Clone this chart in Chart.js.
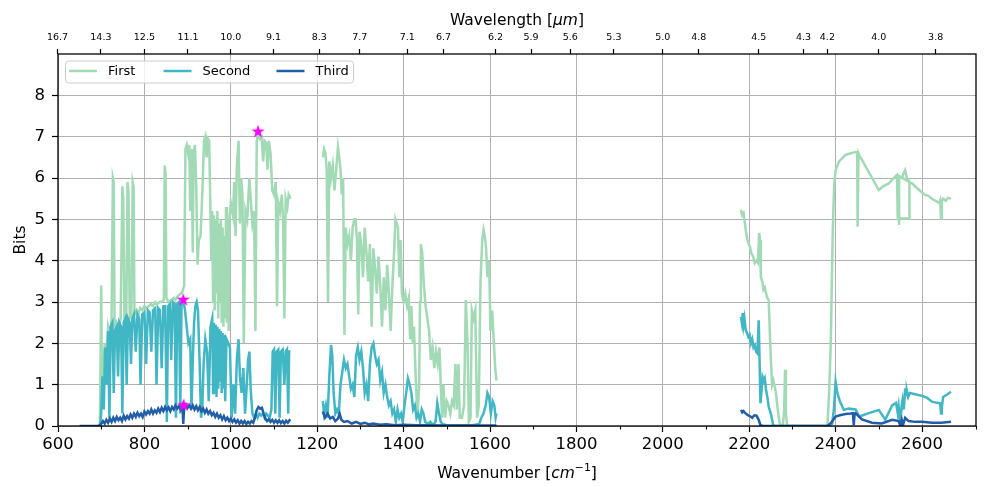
<!DOCTYPE html>
<html>
<head>
<meta charset="utf-8">
<script src="https://cdn.jsdelivr.net/npm/chart.js@4.4.1/dist/chart.umd.min.js"></script>
<style>
html,body{margin:0;padding:0;background:#fff;}
#wrap{width:984px;height:487px;}
</style>
</head>
<body>
<div id="wrap"><canvas id="c" width="984" height="487"></canvas></div>
<script>
// ---------------- data ----------------
const seriesNames = ['First', 'Second', 'Third'];
const seriesColors = ['#a1dab4', '#41b6c4', '#225ea8'];

const firstX = [
690,697,700,702,705,708,712,716,720,724,
727,729,731,735,740,745,749,751,754,758,
761,763,766,770,773,775,777,782,786,790,
795,800,805,810,815,820,825,830,835,840,
845,847,849,851,856,862,868,872,878,884,
888,892,895,898,901,904,906,909,912,914,
917,920,923,926,930,934,938,941,944,947,
950,953,955,957,959,961,963,965,967,969,
971,973,975,977,979,981,983,985,987,989,
991,993,995,997,1000,1005,1008,1011,1014,1018,
1021,1024,1027,1030,1034,1038,1043,1046,1050,1054,
1057,1060,1063,1067,1071,1075,1078,1082,1085,1088,
1092,1096,1100,1104,1107,1110,1114,1118,1121,1124,
1127,1131,1134,1138,
1175,
1213,1216,1219,1222,1225,1228,1232,1236,1240,1244,
1248,1251,1254,1257,1260,1263,1266,1270,1274,1278,
1282,1286,1289,1292,1295,1298,1302,1306,1310,1314,
1318,1322,1326,1330,1334,1338,1342,1346,1350,1354,
1358,1362,1366,1370,1374,1378,1381,1384,1387,1390,
1393,1396,1400,1404,1408,1412,1415,1418,1421,1424,
1428,1432,1436,1438,1440,1443,1447,1451,1455,1459,
1463,1467,1471,1475,1479,1483,1486,1489,1492,1496,
1500,1504,1508,1512,1516,1520,1523,1527,1530,1535,
1540,1544,1548,1551,1555,1558,1562,1566,1570,1574,
1578,1582,1585,1588,1591,1594,1598,1601,1605,1609,
1612,1615,
1900,
2181,2184,2187,2190,2193,2196,2199,2202,2205,2209,
2213,2217,2220,2223,2225,2227,2230,2233,2236,2239,
2242,2245,2247,2249,2251,2253,2256,2259,2262,2266,
2270,2273,2278,2281,2283,2285,2288,2340,
2381,2385,2389,2391,2393,2395,2397,2400,2408,2423,
2435,2446,2450,2451,2453,2455,2500,2510,2523,2530,
2538,2542,2544,2546,2550,2554,2557,2561,2565,2569,
2571,2571,2547,2547,2547,2571,2577,2584,2592,2600,
2607,2615,2623,2627,2635,2640,2642,2644,2646,2649,
2655,2660,2667];
const firstY = [
0,0,3.4,0.5,1.2,2.0,1.5,2.4,2.2,2.6,
6.0,5.9,2.4,2.5,2.3,2.6,5.8,5.5,2.5,2.6,
5.9,5.7,2.6,2.7,5.9,5.8,2.7,2.8,2.7,2.85,
2.8,2.9,2.85,2.9,2.95,2.9,3.0,2.95,3.0,3.0,
3.05,6.3,6.1,3.1,3.0,3.05,3.1,3.05,3.15,3.2,
3.25,3.4,6.7,6.8,6.6,6.8,5.2,6.7,4.2,6.6,
6.8,5.8,3.9,4.5,4.6,5.6,6.9,7.0,6.5,6.95,
6.9,5.1,4.0,5.2,3.0,5.1,2.8,5.0,3.2,5.2,
2.6,4.9,3.0,5.0,2.5,4.8,2.4,4.6,2.6,5.3,
2.5,5.0,2.3,5.0,5.4,5.1,5.9,4.6,6.3,6.9,
4.9,6.0,5.6,2.0,5.2,5.0,6.0,5.5,4.9,5.2,
2.3,6.9,7.05,6.95,7.0,6.4,6.9,6.85,6.2,6.9,
6.6,5.7,5.6,5.9,2.9,5.4,5.2,5.6,5.0,2.6,
5.5,5.3,5.6,5.5,
null,
6.5,6.7,6.6,6.2,3.0,6.4,6.0,6.3,5.7,6.2,
6.75,6.5,6.2,5.6,6.0,2.2,4.8,4.4,4.6,4.0,
4.8,5.0,5.0,4.5,2.7,4.7,4.4,3.6,4.8,4.2,
3.5,4.4,2.4,4.3,3.8,3.2,4.1,3.4,2.4,3.6,
2.8,3.9,3.2,2.3,3.4,4.2,5.0,4.9,4.8,3.6,
4.5,3.2,3.0,3.2,2.9,3.1,2.1,2.9,2.0,2.4,
1.2,0.2,1.0,3.0,4.4,4.2,3.4,2.9,2.6,2.3,
1.6,1.9,1.4,1.8,1.5,1.9,1.0,0.2,1.0,0.2,
0.6,0.5,0.3,0.6,0.5,1.5,0.4,1.5,0.2,0.2,
0.5,3.05,2.0,0.1,0.2,2.8,2.6,2.8,0.2,0.5,
3.5,4.5,4.75,4.6,4.3,3.6,4.0,2.3,2.8,2.0,
1.4,1.1,
null,
5.23,5.1,5.15,4.9,4.67,4.5,4.4,4.33,4.18,4.1,
3.94,4.0,3.95,4.67,4.5,3.6,3.5,3.3,3.35,3.2,
3.1,3.05,2.5,1.9,1.4,1.0,1.1,0.95,0.8,0.4,
0.1,0,0,0.4,1.36,0.3,0,0,
0,0.8,2.08,3.3,4.5,5.3,5.87,6.19,6.4,6.56,
6.6,6.63,6.62,4.82,6.6,6.55,5.71,5.8,5.87,5.95,
6.03,6.07,4.98,6.05,6.02,6.0,6.11,6.19,6.0,5.95,
5.9,5.02,5.02,4.86,6.05,5.9,5.87,5.8,5.72,5.65,
5.59,5.57,5.5,5.47,5.43,5.39,5.45,5.02,5.45,5.5,
5.45,5.52,5.5];

const secondX = [
690,697,700,703,706,709,712,716,719,722,
726,729,732,736,739,742,746,749,752,756,
759,762,766,769,772,776,780,784,788,791,
795,800,804,808,812,816,820,825,828,832,
836,840,844,848,852,855,859,862,866,870,
873,876,880,883,886,890,894,898,902,906,
909,912,915,918,921,924,928,931,934,937,
941,945,949,953,957,959,961,963,965,967,
969,971,973,975,977,979,981,983,985,987,
990,994,998,1002,1006,1010,1014,1018,1021,1025,
1029,1033,1037,1040,1043,1046,1050,1054,1058,1062,
1066,1070,1074,1078,1082,1086,1090,1094,1097,1100,
1103,1106,1110,1113,1116,1120,1124,1127,1130,1133,
1135,1138,
1175,
1213,1216,1220,1224,1228,1232,1235,1238,1242,1246,
1250,1254,1258,1262,1266,1270,1274,1278,1282,1286,
1290,1294,1298,1302,1306,1310,1314,1318,1322,1326,
1330,1334,1338,1342,1346,1350,1354,1358,1362,1366,
1370,1374,1378,1382,1386,1390,1394,1398,1402,1406,
1410,1414,1418,1422,1426,1430,1434,1438,1442,1446,
1450,1456,1462,1468,1474,1478,1482,1486,1490,1500,
1520,1540,1560,1575,1580,1585,1590,1594,1598,1602,
1606,1610,1613,1615,
1900,
2181,2183,2185,2187,2189,2192,2195,2198,2201,2204,
2207,2210,2213,2216,2219,2222,2224,2226,2229,2231,
2234,2236,2239,2242,2245,2250,2253,2256,2300,2340,
2381,2392,2396,2400,2404,2410,2419,2430,2446,2455,
2477,2500,2515,2531,2540,2544,2546,2550,2553,2555,
2558,2561,2563,2565,2568,2572,2584,2600,2612,2623,
2635,2642,2644,2646,2649,2658,2667];
const secondY = [
0,0,0.3,1.2,0.4,1.9,1.0,2.3,0.2,2.4,
2.5,0.8,2.3,2.4,1.2,2.5,2.4,0.3,2.5,2.6,
1.0,2.6,2.5,1.5,2.6,2.7,1.8,2.7,2.6,1.0,
2.7,2.75,1.5,2.8,2.75,1.8,2.8,2.85,1.0,2.85,
2.8,1.4,2.9,2.9,0.1,2.9,2.95,1.6,3.0,2.95,
0.2,2.95,3.0,0.3,3.0,3.05,2.8,2.4,2.0,2.1,
0.4,1.6,2.5,2.9,3.0,2.8,1.5,0.2,0.4,1.5,
2.1,1.8,0.6,2.4,2.6,0.8,2.5,1.0,2.45,0.7,
2.4,0.9,2.35,1.1,2.3,0.8,2.25,0.9,2.2,0.6,
2.1,2.0,1.9,0.2,1.0,0.3,1.6,2.1,1.2,0.8,
1.4,0.3,1.0,1.6,1.8,0.9,0.3,0.2,0.3,0.2,
0.3,0.25,0.3,0.2,0.3,0.25,0.2,0.4,1.8,1.85,
0.3,1.8,1.85,0.2,1.8,1.85,1.0,1.8,1.85,0.3,
1.8,1.8,
null,
0.6,0.3,0.5,0.2,1.2,1.96,1.7,0.8,0.3,0.4,
0.3,1.0,1.3,1.6,1.4,1.5,1.2,0.9,1.0,0.7,
1.7,1.9,1.6,1.8,1.4,0.8,1.0,0.6,1.5,1.9,
2.0,1.7,1.5,1.6,1.1,1.3,0.8,1.0,0.7,0.5,
0.6,0.3,0.4,0.1,0.4,0.2,0.3,0.1,0.5,0.8,
1.15,1.0,0.8,0.4,0.5,0.2,0.3,0.1,0.4,0.3,
0.1,0.05,0.1,0.02,0.1,0.55,0.3,0.1,0.05,0.02,
0.02,0.02,0.02,0.05,0.2,0.3,0.5,0.8,0.7,0.3,
0.6,0.5,0.2,0.3,
null,
2.64,2.5,2.73,2.45,2.6,2.32,2.25,2.15,2.2,2.0,
2.1,1.9,1.95,1.8,1.76,2.56,1.6,0.55,0.9,1.19,
1.1,1.15,0.87,0.7,0.47,0.3,0.15,0,0,0,
0,0.05,0.4,1.07,0.8,0.6,0.39,0.42,0.4,0.23,
0.31,0.39,0.15,0.5,0.56,0.3,0.47,0.06,0.5,0.63,
0.4,0.91,0.75,0.85,0.7,0.8,0.77,0.73,0.68,0.59,
0.56,0.55,0.3,0.47,0.7,0.76,0.83];

const thirdX = [
650,695,700,704,708,712,716,720,724,728,
732,736,740,744,748,752,756,760,764,768,
772,776,780,784,788,792,796,800,804,808,
812,816,820,824,828,832,836,840,844,848,
852,856,860,864,868,872,876,880,884,888,
890,892,896,900,904,908,912,916,920,924,
928,932,936,940,944,948,952,956,960,964,
968,972,976,980,984,988,992,996,1000,1004,
1008,1012,1016,1020,1024,1028,1032,1036,1040,1044,
1048,1052,1056,1060,1064,1068,1072,1076,1080,1084,
1088,1092,1096,1100,1104,1108,1112,1116,1120,1124,
1128,1132,1136,1138,
1175,
1213,1218,1224,1230,1236,1242,1248,1252,1256,1262,
1270,1280,1290,1300,1310,1320,1330,1345,1360,1380,
1400,1430,1460,1500,1550,1615,
1900,
2181,2184,2187,2191,2195,2199,2203,2207,2212,2217,
2222,2226,2232,2300,2340,
2381,2390,2395,2400,2410,2423,2435,2440,2442,2444,
2446,2461,2484,2507,2531,2546,2550,2553,2556,2561,
2569,2584,2600,2623,2645,2667];
const thirdY = [
0,0,0.05,0.12,0.06,0.15,0.08,0.18,0.1,0.2,
0.12,0.22,0.14,0.2,0.12,0.25,0.16,0.24,0.18,0.28,
0.2,0.3,0.22,0.32,0.24,0.3,0.22,0.35,0.28,0.36,
0.3,0.4,0.3,0.38,0.32,0.42,0.34,0.44,0.36,0.46,
0.38,0.45,0.36,0.46,0.4,0.5,0.42,0.48,0.4,0.5,
0.05,0.45,0.52,0.44,0.5,0.42,0.5,0.4,0.48,0.38,
0.46,0.36,0.42,0.32,0.4,0.3,0.36,0.26,0.32,0.22,
0.3,0.2,0.26,0.16,0.24,0.14,0.2,0.12,0.18,0.1,
0.16,0.08,0.14,0.06,0.12,0.06,0.12,0.05,0.1,0.06,
0.12,0.08,0.2,0.38,0.46,0.42,0.44,0.3,0.18,0.12,
0.16,0.1,0.15,0.08,0.14,0.08,0.14,0.07,0.12,0.06,
0.13,0.08,0.14,0.12,
null,
0.35,0.2,0.3,0.18,0.22,0.12,0.18,0.3,0.15,0.1,
0.12,0.06,0.1,0.05,0.08,0.04,0.06,0.03,0.04,0.02,
0.03,0.02,0.02,0.01,0.01,0.01,
null,
0.39,0.33,0.36,0.31,0.28,0.25,0.23,0.2,0.26,0.25,
0.15,0.02,0,0,0,
0,0.08,0.16,0.23,0.26,0.29,0.3,0.31,0.02,0.3,
0.31,0.16,0.08,0.06,0.15,0.12,0.0,0.15,0.02,0.2,
0.12,0.1,0.1,0.08,0.08,0.1];

// highlighted maxima (magenta stars)
const starX = [1063, 890, 891];
const starY = [7.12, 3.05, 0.5];

// top axis tick labels: wavelength in micrometres
const wavelengthTicks = [16.7,14.3,12.5,11.1,10.0,9.1,8.3,7.7,7.1,6.7,6.2,5.9,5.6,5.3,5.0,4.8,4.5,4.3,4.2,4.0,3.8];

// ---------------- helpers ----------------
const FONT = "'DejaVu Sans', 'Liberation Sans', sans-serif";
function pts(xs, ys) { return xs.map((x, i) => ({x: x, y: ys[i]})); }

function makeStar(r, color) {
  const s = Math.ceil(2 * r + 2);
  const c = document.createElement('canvas');
  c.width = s; c.height = s;
  const g = c.getContext('2d');
  g.fillStyle = color;
  g.beginPath();
  for (let i = 0; i < 10; i++) {
    const a = -Math.PI / 2 + i * Math.PI / 5;
    const rr = (i % 2 === 0) ? r : r * 0.381966;
    const px = s / 2 + rr * Math.cos(a), py = s / 2 + rr * Math.sin(a);
    if (i === 0) g.moveTo(px, py); else g.lineTo(px, py);
  }
  g.closePath();
  g.fill();
  return c;
}

function drawParts(ctx, parts, cx, baseY, size) {
  let total = 0;
  const m = parts.map(p => {
    const fs = p.sup ? size * 0.7 : size;
    ctx.font = (p.it ? 'italic ' : '') + fs + 'px ' + FONT;
    const w = ctx.measureText(p.t).width;
    total += w;
    return {p: p, fs: fs, w: w};
  });
  let x = cx - total / 2;
  ctx.textAlign = 'left';
  ctx.textBaseline = 'alphabetic';
  m.forEach(o => {
    ctx.font = (o.p.it ? 'italic ' : '') + o.fs + 'px ' + FONT;
    ctx.fillText(o.p.t, x, baseY - (o.p.sup ? size * 0.42 : 0));
    x += o.w;
  });
}

const extras = {
  id: 'extras',
  afterDraw(chart) {
    const ctx = chart.ctx;
    const a = chart.chartArea;
    const sx = chart.scales.x;
    ctx.save();
    // minor ticks on bottom axis
    ctx.strokeStyle = '#000';
    ctx.lineWidth = 1.1;
    sx.ticks.forEach(t => {
      if (t.value % 200 !== 0) {
        const px = Math.round(sx.getPixelForValue(t.value)) + 0.5;
        ctx.beginPath(); ctx.moveTo(px, a.bottom); ctx.lineTo(px, a.bottom + 3.5); ctx.stroke();
      }
    });
    // frame
    ctx.lineWidth = 1.3;
    ctx.strokeRect(a.left, a.top, a.right - a.left, a.bottom - a.top);

    // axis titles
    ctx.fillStyle = '#000';
    const cx = (a.left + a.right) / 2;
    drawParts(ctx, [{t: 'Wavelength ['}, {t: '\u03bcm', it: true}, {t: ']'}], cx, 25, 15.5);
    drawParts(ctx, [{t: 'Wavenumber ['}, {t: 'cm', it: true}, {t: '\u22121', sup: true, it: false}, {t: ']'}], cx, 478, 15.5);
    ctx.save();
    ctx.translate(25, (a.top + a.bottom) / 2);
    ctx.rotate(-Math.PI / 2);
    ctx.font = '15.5px ' + FONT;
    ctx.textAlign = 'center';
    ctx.textBaseline = 'alphabetic';
    ctx.fillText('Bits', 0, 0);
    ctx.restore();

    // legend
    const lx = a.left + 7.5, ly = 61, lw = 288, lh = 22;
    ctx.beginPath();
    if (ctx.roundRect) ctx.roundRect(lx, ly, lw, lh, 3); else ctx.rect(lx, ly, lw, lh);
    ctx.fillStyle = 'rgba(255,255,255,0.8)';
    ctx.fill();
    ctx.strokeStyle = '#cccccc';
    ctx.lineWidth = 1;
    ctx.stroke();
    const handleX = [lx + 3.5, lx + 98, lx + 211];
    ctx.font = '13px ' + FONT;
    ctx.textAlign = 'left';
    ctx.textBaseline = 'middle';
    seriesNames.forEach((n, i) => {
      ctx.strokeStyle = seriesColors[i];
      ctx.lineWidth = 2.5;
      ctx.beginPath(); ctx.moveTo(handleX[i], 71); ctx.lineTo(handleX[i] + 28, 71); ctx.stroke();
      ctx.fillStyle = '#000';
      ctx.fillText(n, handleX[i] + 39, 71.5);
    });
    ctx.restore();
  }
};

// ---------------- chart ----------------
const lineDs = (i, xs, ys, ord) => ({
  type: 'line',
  label: seriesNames[i],
  data: pts(xs, ys),
  borderColor: seriesColors[i],
  backgroundColor: seriesColors[i],
  borderWidth: 2.5,
  pointRadius: 0,
  spanGaps: false,
  tension: 0,
  order: ord
});

new Chart(document.getElementById('c'), {
  type: 'line',
  data: {
    datasets: [
      lineDs(0, firstX, firstY, 3),
      lineDs(1, secondX, secondY, 2),
      lineDs(2, thirdX, thirdY, 1),
      {
        type: 'scatter',
        label: 'max',
        data: pts(starX, starY),
        pointStyle: makeStar(7, '#ff00ff'),
        pointRadius: 7,
        order: 0
      }
    ]
  },
  options: {
    responsive: false,
    animation: false,
    events: [],
    layout: {padding: {left: 0, right: 2, top: 0, bottom: 0}},
    plugins: {legend: {display: false}, tooltip: {enabled: false}},
    scales: {
      x: {
        type: 'linear', position: 'bottom', min: 600, max: 2725,
        afterFit: s => { s.height = 61; },
        ticks: {
          stepSize: 100, autoSkip: false, maxRotation: 0, padding: 3,
          color: '#000', font: {family: FONT, size: 16.5},
          callback: v => (v % 200 === 0 ? String(v) : '')
        },
        grid: {
          drawOnChartArea: true, drawTicks: true, tickLength: 6, lineWidth: 1, tickWidth: 1.2,
          color: c => (c.tick && c.tick.value % 200 === 0 ? '#b0b0b0' : 'rgba(0,0,0,0)'),
          tickColor: c => (c.tick && c.tick.value % 200 === 0 ? '#000' : 'rgba(0,0,0,0)')
        },
        border: {display: false}
      },
      x2: {
        type: 'linear', position: 'top', min: 600, max: 2725,
        afterFit: s => { s.height = 54; },
        afterBuildTicks: s => { s.ticks = wavelengthTicks.map(l => ({value: 10000 / l})); },
        ticks: {
          autoSkip: false, maxRotation: 0, padding: 6,
          color: '#000', font: {family: FONT, size: 9.5},
          callback: v => (10000 / v).toFixed(1)
        },
        grid: {drawOnChartArea: false, drawTicks: true, tickLength: 5, tickWidth: 1.2, tickColor: '#000', color: '#000'},
        border: {display: false}
      },
      y: {
        type: 'linear', position: 'left', min: 0, max: 9,
        afterFit: s => { s.width = 58; },
        ticks: {
          stepSize: 1, padding: 7, color: '#000', font: {family: FONT, size: 16.5},
          callback: v => (v === 9 ? '' : String(v))
        },
        grid: {
          lineWidth: 1, tickLength: 6, tickWidth: 1.2,
          color: c => (c.tick && c.tick.value === 9 ? 'rgba(0,0,0,0)' : '#b0b0b0'),
          tickColor: c => (c.tick && c.tick.value === 9 ? 'rgba(0,0,0,0)' : '#000')
        },
        border: {display: false}
      }
    }
  },
  plugins: [extras]
});
</script>
</body>
</html>
